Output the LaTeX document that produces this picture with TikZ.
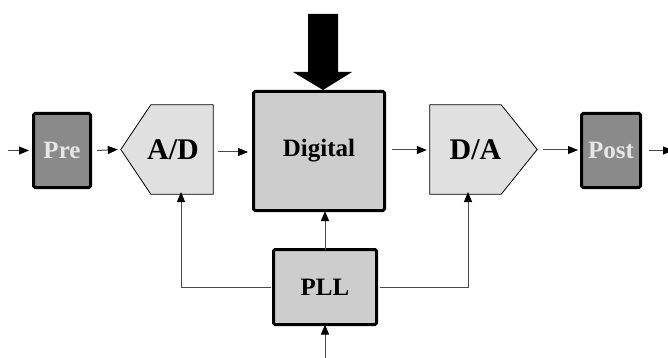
\documentclass[tikz,border=0pt]{standalone}
\usepackage{fontspec}
\setmainfont{Liberation Serif}
\usetikzlibrary{arrows.meta,calc}
\definecolor{darkbox}{HTML}{8A8A8A}
\definecolor{midbox}{HTML}{CDCDCD}
\definecolor{lightbox}{HTML}{E0E0E0}
\definecolor{wire}{HTML}{4A4A4A}
\begin{document}
\begin{tikzpicture}[x=1pt,y=-1pt,
  thickbox/.style={draw=black,line width=3pt,rounded corners=1.5pt,inner sep=0pt,
    font=\fontsize{25}{30}\selectfont\bfseries},
  endbox/.style={thickbox,fill=darkbox,text=lightbox!80!white},
  corebox/.style={thickbox,fill=midbox},
  convbox/.style={inner sep=0pt},
  convtext/.style={font=\fontsize{30}{36}\selectfont\bfseries,inner sep=0pt},
  wirearrow/.style={draw=wire,line width=1pt,-{Triangle[length=10pt,width=8pt,color=black]}},
]
\useasboundingbox (0,0) rectangle (668,358);

% blocks
\node[endbox, minimum width=57pt, minimum height=74pt] (pre) at (62,150.5) {Pre};
\node[endbox, minimum width=59pt, minimum height=74pt] (post) at (611,150.5) {Post};
\node[corebox, minimum width=131pt, minimum height=119pt] (dig) at (319,151) {Digital};
\node[corebox, minimum width=103pt, minimum height=75pt] (pll) at (325,287) {PLL};

% converters: pentagon outlines around invisible frame nodes
\node[convbox, minimum width=92pt, minimum height=89pt] (ad) at (167,149.5) {};
\node[convbox, minimum width=107pt, minimum height=89pt] (da) at (483.5,149.5) {};
\draw[fill=lightbox,line width=0.8pt] (ad.north east) -- (ad.south east)
  -- ([xshift=30pt]ad.south west) -- (ad.west) -- ([xshift=30pt]ad.north west) -- cycle;
\draw[fill=lightbox,line width=0.8pt] (da.north west) -- ([xshift=-36pt]da.north east)
  -- (da.east) -- ([xshift=-36pt]da.south east) -- (da.south west) -- cycle;
\node[convtext] (adtxt) at (173,150) {A/D};
\node[convtext] (datxt) at (475.5,150) {D/A};

% free ends
\coordinate (in) at (8,150.5);
\coordinate (out) at (673,150.5);
\coordinate (clk) at (325,358);
\coordinate (ctl) at (323,14);

% signal chain
\draw[wirearrow] (in) -- ([xshift=-3pt]pre.west);
\draw[wirearrow] ([xshift=5pt]pre.east) -- ([xshift=-3pt]ad.west);
\draw[wirearrow] ([xshift=5pt]ad.east |- 0,152) -- ([xshift=-4pt]dig.west |- 0,152);
\draw[wirearrow] ([xshift=6pt]dig.east |- 0,150) -- ([xshift=-3pt]da.west |- 0,150);
\draw[wirearrow] ([xshift=6pt]da.east |- 0,150) -- ([xshift=-2pt]post.west |- 0,150);
\draw[wirearrow] ([xshift=7pt]post.east) -- (out);

% clock distribution
\draw[wirearrow] (clk) -- ([yshift=1.5pt]pll.south);
\draw[wirearrow] ([yshift=-1.5pt]pll.north) -- ([yshift=1pt]pll.north |- dig.south);
\draw[wirearrow] ([xshift=-1.5pt]pll.west) -| ([yshift=2pt]181,194);
\draw[wirearrow] ([xshift=1.5pt]pll.east) -| ([yshift=2pt]468,194);

% wide control arrow into the digital block
\fill[black] ($(ctl)+(-15,0)$) -- ($(ctl)+(15,0)$) -- ($(ctl)+(15,58)$)
  -- ($(ctl)+(29,58)$) -- ($(ctl)+(0,76)$) -- ($(ctl)+(-30,58)$)
  -- ($(ctl)+(-15,58)$) -- cycle;
\end{tikzpicture}
\end{document}
